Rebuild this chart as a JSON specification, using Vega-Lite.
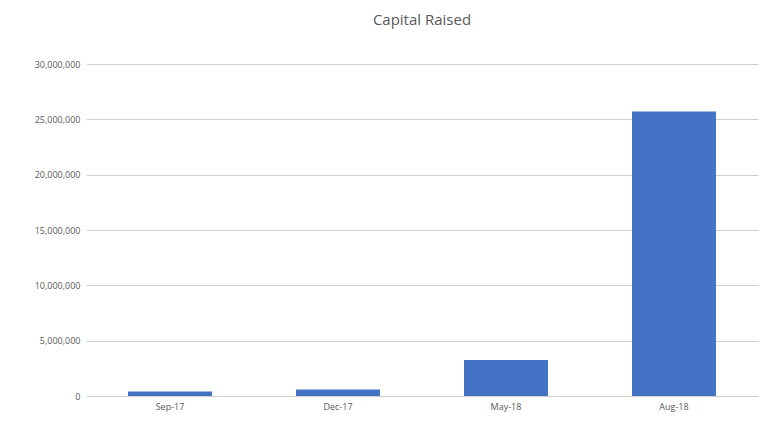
{
  "$schema": "https://vega.github.io/schema/vega-lite/v6.json",
  "width": 672,
  "height": 332,
  "autosize": {"type": "none"},
  "padding": {"left": 86, "top": 64, "right": 13, "bottom": 29},
  "background": "white",
  "title": {
    "text": "Capital Raised",
    "anchor": "middle",
    "offset": 32,
    "fontSize": 15,
    "fontWeight": "normal",
    "color": "#595959",
    "font": "Open Sans"
  },
  "config": {"view": {"stroke": null}},
  "data": {
    "values": [
      {"date": "Sep-17", "capital": 400000},
      {"date": "Dec-17", "capital": 590000},
      {"date": "May-18", "capital": 3250000},
      {"date": "Aug-18", "capital": 25700000}
    ]
  },
  "mark": {"type": "bar", "color": "#4472C4"},
  "encoding": {
    "x": {
      "field": "date",
      "type": "nominal",
      "sort": null,
      "scale": {"paddingInner": 0.5, "paddingOuter": 0.25},
      "axis": {
        "title": null,
        "labelAngle": 0,
        "domain": false,
        "ticks": false,
        "labelFontSize": 9,
        "labelColor": "#595959",
        "labelFont": "Open Sans",
        "labelPadding": 6
      }
    },
    "y": {
      "field": "capital",
      "type": "quantitative",
      "scale": {"domain": [0, 30000000], "nice": false},
      "axis": {
        "title": null,
        "values": [0, 5000000, 10000000, 15000000, 20000000, 25000000, 30000000],
        "format": ",d",
        "domain": false,
        "ticks": false,
        "gridColor": "#d0d0d0",
        "gridWidth": 1,
        "labelFontSize": 9,
        "labelColor": "#595959",
        "labelFont": "Open Sans",
        "labelPadding": 6
      }
    }
  }
}
